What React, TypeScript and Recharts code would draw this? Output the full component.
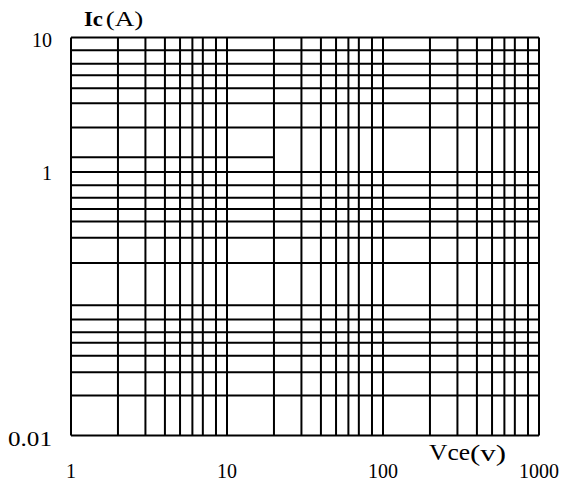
import React from 'react';
import { LineChart, XAxis, YAxis, ReferenceLine } from 'recharts';

// Axis decades and tick labels
const xTicks = [1, 10, 100, 1000];
const yTicks = [0.01, 1, 10];

// Vertical grid lines (Vce, volts)
const xGridValues = [2, 3, 4, 5, 6, 7, 8.5, 10, 20, 30, 40, 50, 60, 70, 85, 100, 200, 300, 400, 500, 600, 700, 850];
// Horizontal grid lines (Ic, amperes)
const yGridValues = [8, 6.35, 5.2, 4.15, 3.2, 2.1, 0.97, 0.77, 0.62, 0.51, 0.41, 0.31, 0.2, 0.096, 0.075, 0.06, 0.05, 0.04, 0.03, 0.02];
// Partial horizontal line
const partialY = 1.25;
const partialXFrom = 1;
const partialXTo = 20;

const xDomain: [number, number] = [1, 1000];
const yDomain: [number, number] = [0.01, 10];

const chartData = xTicks.map((x) => ({ x }));

const FONT = '"Liberation Serif", "Times New Roman", serif';

const W = 565;
const H = 488;

const fmt = (v: number) => String(v);

const YTick = (props: any) => {
  const { x, y, payload } = props;
  const label = fmt(payload.value);
  const wide = label.length > 2;
  return (
    <text
      x={x}
      y={y + (wide ? 10.5 : 9.5)}
      textAnchor="end"
      fontFamily={FONT}
      fontSize={20}
      fill="#000"
      {...(wide ? { textLength: 44, lengthAdjust: 'spacingAndGlyphs' } : {})}
    >
      {label}
    </text>
  );
};

const XTick = (props: any) => {
  const { x, y, payload } = props;
  return (
    <text x={x} y={y + 42.5} textAnchor="middle" fontFamily={FONT} fontSize={20} fill="#000">
      {fmt(payload.value)}
    </text>
  );
};

export default function App() {
  const line = { stroke: '#000', strokeWidth: 2 };
  return (
    <div style={{ position: 'relative', width: W, height: H }}>
      <style>{'html,body{margin:0;padding:0;overflow:hidden;}'}</style>
      <LineChart
        width={W}
        height={H}
        data={chartData}
        margin={{ top: 37.5, right: 26, left: 21, bottom: 0 }}
      >
        <XAxis
          dataKey="x"
          type="number"
          scale="log"
          domain={xDomain}
          ticks={xTicks}
          interval={0}
          allowDataOverflow
          axisLine={false}
          tickLine={false}
          tickSize={0}
          tickMargin={0}
          height={52.5}
          tick={<XTick />}
        />
        <YAxis
          type="number"
          scale="log"
          domain={yDomain}
          ticks={yTicks}
          interval={0}
          allowDataOverflow
          axisLine={false}
          tickLine={false}
          tickSize={0}
          tickMargin={19}
          width={50}
          tick={<YTick />}
        />
        {xGridValues.map((v) => (
          <ReferenceLine key={'x' + v} x={v} {...line} />
        ))}
        {yGridValues.map((v) => (
          <ReferenceLine key={'y' + v} y={v} {...line} />
        ))}
        <ReferenceLine
          segment={[
            { x: partialXFrom, y: partialY },
            { x: partialXTo, y: partialY },
          ]}
          {...line}
        />
        <ReferenceLine x={xDomain[0]} {...line} />
        <ReferenceLine x={xDomain[1]} {...line} />
        <ReferenceLine y={yDomain[0]} {...line} />
        <ReferenceLine y={yDomain[1]} {...line} />
      </LineChart>
      <svg
        width={W}
        height={H}
        style={{ position: 'absolute', left: 0, top: 0, pointerEvents: 'none' }}
      >
        <text x={84} y={25.5} fontFamily={FONT} fontSize={20} fontWeight="bold" fill="#000" textLength={19} lengthAdjust="spacingAndGlyphs">
          Ic
        </text>
        <text x={105.7} y={26} fontFamily={FONT} fontSize={22} fill="#000" textLength={37.6} lengthAdjust="spacingAndGlyphs">
          (A)
        </text>
        <text x={429} y={460} fontFamily={FONT} fontSize={23} fill="#000" textLength={41} lengthAdjust="spacingAndGlyphs">
          Vce
        </text>
        <text x={470} y={461} fontFamily={FONT} fontSize={23} fill="#000" textLength={36} lengthAdjust="spacingAndGlyphs">
          (v)
        </text>
      </svg>
    </div>
  );
}
